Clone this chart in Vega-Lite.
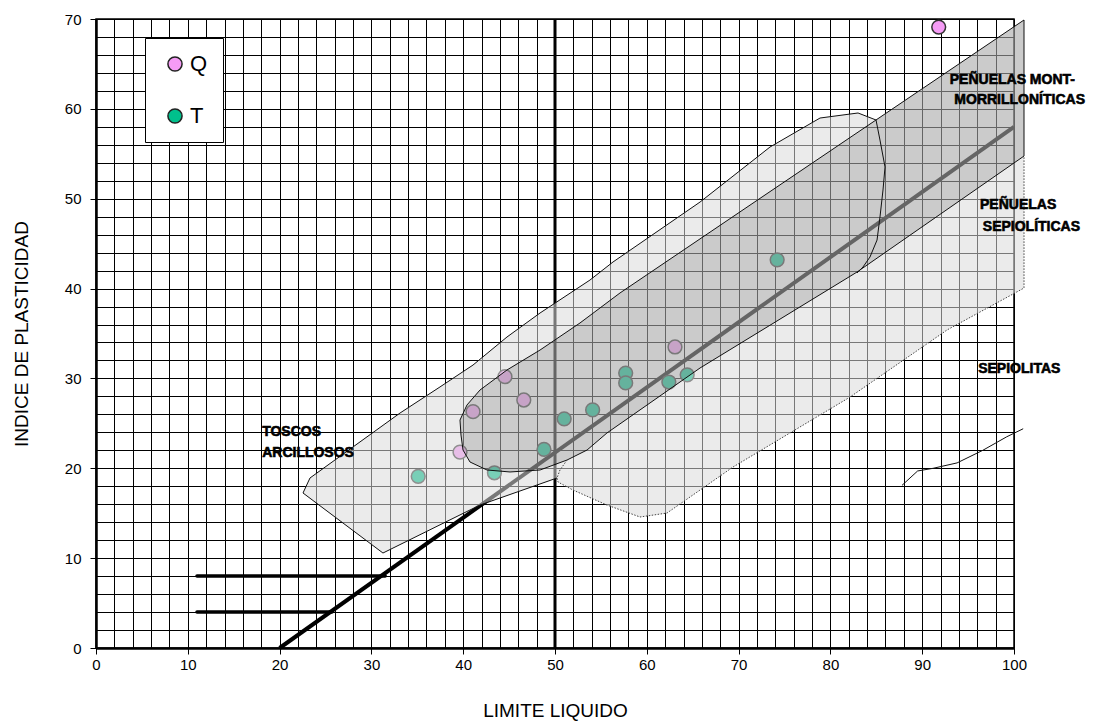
{
  "$schema": "https://vega.github.io/schema/vega-lite/v6.json",
  "width": 918,
  "height": 629,
  "autosize": {"type": "none"},
  "padding": {"left": 96, "top": 19, "right": 83, "bottom": 77},
  "background": "#ffffff",
  "config": {"font": "Liberation Sans", "view": {"stroke": "#000", "strokeWidth": 1.5}},
  "datasets": {
    "pts": [
      {"s": "Q", "x": 91.8, "y": 69.1},
      {"s": "Q", "x": 39.65, "y": 21.8},
      {"s": "Q", "x": 41.07, "y": 26.3},
      {"s": "Q", "x": 44.55, "y": 30.2},
      {"s": "Q", "x": 46.6, "y": 27.6},
      {"s": "Q", "x": 63.07, "y": 33.5},
      {"s": "T", "x": 35.1, "y": 19.1},
      {"s": "T", "x": 43.4, "y": 19.5},
      {"s": "T", "x": 48.8, "y": 22.1},
      {"s": "T", "x": 51.0, "y": 25.5},
      {"s": "T", "x": 54.1, "y": 26.5},
      {"s": "T", "x": 57.7, "y": 30.6},
      {"s": "T", "x": 57.7, "y": 29.5},
      {"s": "T", "x": 62.4, "y": 29.6},
      {"s": "T", "x": 64.4, "y": 30.4},
      {"s": "T", "x": 74.2, "y": 43.2}
    ],
    "poly": [
      {"g": "R1", "i": 1, "x": 22.55, "y": 17.25},
      {"g": "R1", "i": 2, "x": 23.31, "y": 18.92},
      {"g": "R1", "i": 3, "x": 33.12, "y": 26.15},
      {"g": "R1", "i": 4, "x": 37.47, "y": 29.05},
      {"g": "R1", "i": 5, "x": 41.07, "y": 31.49},
      {"g": "R1", "i": 6, "x": 44.77, "y": 34.61},
      {"g": "R1", "i": 7, "x": 48.37, "y": 37.28},
      {"g": "R1", "i": 8, "x": 53.81, "y": 40.95},
      {"g": "R1", "i": 9, "x": 56.32, "y": 42.96},
      {"g": "R1", "i": 10, "x": 65.8, "y": 49.63},
      {"g": "R1", "i": 11, "x": 73.42, "y": 55.75},
      {"g": "R1", "i": 12, "x": 78.87, "y": 58.98},
      {"g": "R1", "i": 13, "x": 83.01, "y": 59.54},
      {"g": "R1", "i": 14, "x": 84.97, "y": 58.76},
      {"g": "R1", "i": 15, "x": 57.08, "y": 39.51},
      {"g": "R1", "i": 16, "x": 52.72, "y": 36.17},
      {"g": "R1", "i": 17, "x": 48.37, "y": 33.16},
      {"g": "R1", "i": 18, "x": 44.77, "y": 30.94},
      {"g": "R1", "i": 19, "x": 41.83, "y": 28.71},
      {"g": "R1", "i": 20, "x": 40.41, "y": 27.04},
      {"g": "R1", "i": 21, "x": 39.65, "y": 25.37},
      {"g": "R1", "i": 22, "x": 39.76, "y": 23.7},
      {"g": "R1", "i": 23, "x": 39.98, "y": 22.03},
      {"g": "R1", "i": 24, "x": 40.74, "y": 20.7},
      {"g": "R1", "i": 25, "x": 42.59, "y": 19.81},
      {"g": "R1", "i": 26, "x": 45.1, "y": 19.59},
      {"g": "R1", "i": 27, "x": 48.37, "y": 19.81},
      {"g": "R1", "i": 28, "x": 50.54, "y": 20.59},
      {"g": "R1", "i": 29, "x": 50.22, "y": 18.92},
      {"g": "R1", "i": 30, "x": 41.83, "y": 15.91},
      {"g": "R1", "i": 31, "x": 31.26, "y": 10.57},

      {"g": "R2", "i": 1, "x": 50.22, "y": 18.92},
      {"g": "R2", "i": 2, "x": 50.54, "y": 20.59},
      {"g": "R2", "i": 3, "x": 51.31, "y": 20.92},
      {"g": "R2", "i": 4, "x": 53.49, "y": 22.03},
      {"g": "R2", "i": 5, "x": 55.66, "y": 23.93},
      {"g": "R2", "i": 6, "x": 65.8, "y": 31.16},
      {"g": "R2", "i": 7, "x": 82.9, "y": 41.84},
      {"g": "R2", "i": 8, "x": 101.09, "y": 54.75},
      {"g": "R2", "i": 9, "x": 101.09, "y": 40.06},
      {"g": "R2", "i": 10, "x": 92.7, "y": 35.39},
      {"g": "R2", "i": 11, "x": 82.14, "y": 27.93},
      {"g": "R2", "i": 12, "x": 69.39, "y": 20.14},
      {"g": "R2", "i": 13, "x": 65.8, "y": 17.58},
      {"g": "R2", "i": 14, "x": 62.2, "y": 15.02},
      {"g": "R2", "i": 15, "x": 59.26, "y": 14.58},
      {"g": "R2", "i": 16, "x": 55.66, "y": 15.91},
      {"g": "R2", "i": 17, "x": 51.96, "y": 17.58},
      {"g": "R2", "i": 18, "x": 50.33, "y": 18.47},

      {"g": "R3", "i": 1, "x": 39.76, "y": 23.7},
      {"g": "R3", "i": 2, "x": 39.98, "y": 22.03},
      {"g": "R3", "i": 3, "x": 40.74, "y": 20.7},
      {"g": "R3", "i": 4, "x": 42.59, "y": 19.81},
      {"g": "R3", "i": 5, "x": 45.1, "y": 19.59},
      {"g": "R3", "i": 6, "x": 48.37, "y": 19.81},
      {"g": "R3", "i": 7, "x": 51.31, "y": 20.92},
      {"g": "R3", "i": 8, "x": 53.49, "y": 22.03},
      {"g": "R3", "i": 9, "x": 55.66, "y": 23.93},
      {"g": "R3", "i": 10, "x": 65.8, "y": 31.16},
      {"g": "R3", "i": 11, "x": 82.9, "y": 41.84},
      {"g": "R3", "i": 12, "x": 101.09, "y": 54.75},
      {"g": "R3", "i": 13, "x": 101.09, "y": 69.89},
      {"g": "R3", "i": 14, "x": 57.08, "y": 39.51},
      {"g": "R3", "i": 15, "x": 52.72, "y": 36.17},
      {"g": "R3", "i": 16, "x": 48.37, "y": 33.16},
      {"g": "R3", "i": 17, "x": 44.77, "y": 30.94},
      {"g": "R3", "i": 18, "x": 41.83, "y": 28.71},
      {"g": "R3", "i": 19, "x": 40.41, "y": 27.04},
      {"g": "R3", "i": 20, "x": 39.65, "y": 25.37},
      {"g": "R3", "i": 21, "x": 39.76, "y": 23.7},

      {"g": "R1o", "i": 1, "x": 50.22, "y": 18.92},
      {"g": "R1o", "i": 2, "x": 41.83, "y": 15.91},
      {"g": "R1o", "i": 3, "x": 31.26, "y": 10.57},
      {"g": "R1o", "i": 4, "x": 22.55, "y": 17.25},
      {"g": "R1o", "i": 5, "x": 23.31, "y": 18.92},
      {"g": "R1o", "i": 6, "x": 33.12, "y": 26.15},
      {"g": "R1o", "i": 7, "x": 37.47, "y": 29.05},
      {"g": "R1o", "i": 8, "x": 41.07, "y": 31.49},
      {"g": "R1o", "i": 9, "x": 44.77, "y": 34.61},
      {"g": "R1o", "i": 10, "x": 48.37, "y": 37.28},
      {"g": "R1o", "i": 11, "x": 53.81, "y": 40.95},
      {"g": "R1o", "i": 12, "x": 56.32, "y": 42.96},
      {"g": "R1o", "i": 13, "x": 65.8, "y": 49.63},
      {"g": "R1o", "i": 14, "x": 73.42, "y": 55.75},
      {"g": "R1o", "i": 15, "x": 78.87, "y": 58.98},
      {"g": "R1o", "i": 16, "x": 83.01, "y": 59.54},
      {"g": "R1o", "i": 17, "x": 84.97, "y": 58.76},
      {"g": "R1o", "i": 18, "x": 85.4, "y": 56.53},
      {"g": "R1o", "i": 19, "x": 85.95, "y": 53.53},
      {"g": "R1o", "i": 20, "x": 85.73, "y": 50.97},
      {"g": "R1o", "i": 21, "x": 85.4, "y": 47.96},
      {"g": "R1o", "i": 22, "x": 85.08, "y": 45.4},
      {"g": "R1o", "i": 23, "x": 84.31, "y": 43.51},
      {"g": "R1o", "i": 24, "x": 83.55, "y": 42.4},
      {"g": "R1o", "i": 25, "x": 82.9, "y": 41.73},

      {"g": "R2o", "i": 1, "x": 51.31, "y": 20.92},
      {"g": "R2o", "i": 2, "x": 50.54, "y": 19.81},
      {"g": "R2o", "i": 3, "x": 50.22, "y": 18.92},
      {"g": "R2o", "i": 4, "x": 50.33, "y": 18.47},
      {"g": "R2o", "i": 5, "x": 51.96, "y": 17.58},
      {"g": "R2o", "i": 6, "x": 55.66, "y": 15.91},
      {"g": "R2o", "i": 7, "x": 59.26, "y": 14.58},
      {"g": "R2o", "i": 8, "x": 62.2, "y": 15.02},
      {"g": "R2o", "i": 9, "x": 65.8, "y": 17.58},
      {"g": "R2o", "i": 10, "x": 69.39, "y": 20.14},
      {"g": "R2o", "i": 11, "x": 82.14, "y": 27.93},
      {"g": "R2o", "i": 12, "x": 92.7, "y": 35.39},
      {"g": "R2o", "i": 13, "x": 101.09, "y": 40.06},
      {"g": "R2o", "i": 14, "x": 101.09, "y": 54.75},

      {"g": "aline", "i": 1, "x": 20, "y": 0},
      {"g": "aline", "i": 2, "x": 100, "y": 58},

      {"g": "sep", "i": 1, "x": 87.8, "y": 18.1},
      {"g": "sep", "i": 2, "x": 89.5, "y": 19.7},
      {"g": "sep", "i": 3, "x": 91.2, "y": 20.0},
      {"g": "sep", "i": 4, "x": 93.8, "y": 20.6},
      {"g": "sep", "i": 5, "x": 96.6, "y": 22.0},
      {"g": "sep", "i": 6, "x": 99.2, "y": 23.5},
      {"g": "sep", "i": 7, "x": 101.0, "y": 24.4}
    ],
    "hl": [
      {"y": 8, "x": 11, "x2": 31.5},
      {"y": 4, "x": 11, "x2": 25.7}
    ],
    "vl": [{"x": 50, "y": 0, "y2": 70}],
    "labels": [
      {"t": "TOSCOS", "x": 18.1, "y": 24.0},
      {"t": "ARCILLOSOS", "x": 18.1, "y": 21.7},
      {"t": "PEÑUELAS MONT-", "x": 93.0, "y": 63.2},
      {"t": "MORRILLONÍTICAS", "x": 93.5, "y": 61.0},
      {"t": "PEÑUELAS", "x": 96.3, "y": 49.3},
      {"t": "SEPIOLÍTICAS", "x": 96.6, "y": 46.85},
      {"t": "SEPIOLITAS", "x": 96.1, "y": 31.05}
    ]
  },
  "encoding": {
    "x": {
      "field": "x", "type": "quantitative",
      "scale": {"domain": [0, 100], "nice": false, "zero": false},
      "axis": {
        "values": [0,2,4,6,8,10,12,14,16,18,20,22,24,26,28,30,32,34,36,38,40,42,44,46,48,50,52,54,56,58,60,62,64,66,68,70,72,74,76,78,80,82,84,86,88,90,92,94,96,98,100],
        "title": "LIMITE LIQUIDO",
        "zindex": 0,
        "grid": true, "gridColor": "#000", "gridWidth": 1, "gridOpacity": 1,
        "domainColor": "#000", "domainWidth": 2.5,
        "tickColor": "#000", "tickSize": 6, "tickWidth": 1,
        "tickOpacity": {"condition": {"test": "datum.value % 10 === 0", "value": 1}, "value": 0},
        "labelExpr": "datum.value % 10 === 0 ? datum.label : ''",
        "labelFont": "Liberation Sans", "labelFontSize": 15, "labelColor": "#000",
        "labelPadding": 3, "labelOverlap": false, "labelFlush": false,
        "titleFont": "Liberation Sans", "titleFontSize": 19, "titleFontWeight": "normal",
        "titleColor": "#000", "titlePadding": 29
      }
    },
    "y": {
      "field": "y", "type": "quantitative",
      "scale": {"domain": [0, 70], "nice": false, "zero": false},
      "axis": {
        "values": [0,2,4,6,8,10,12,14,16,18,20,22,24,26,28,30,32,34,36,38,40,42,44,46,48,50,52,54,56,58,60,62,64,66,68,70],
        "title": "INDICE DE PLASTICIDAD",
        "zindex": 0,
        "grid": true, "gridColor": "#000", "gridWidth": 1, "gridOpacity": 1,
        "domainColor": "#000", "domainWidth": 2.5,
        "tickColor": "#000", "tickSize": 6, "tickWidth": 1,
        "tickOpacity": {"condition": {"test": "datum.value % 10 === 0", "value": 1}, "value": 0},
        "labelExpr": "datum.value % 10 === 0 ? datum.label : ''",
        "labelFont": "Liberation Sans", "labelFontSize": 15, "labelColor": "#000",
        "labelPadding": 9, "labelOverlap": false, "labelFlush": false,
        "titleFont": "Liberation Sans", "titleFontSize": 19, "titleFontWeight": "normal",
        "titleColor": "#000", "titlePadding": 33
      }
    }
  },
  "layer": [
    {
      "data": {"name": "vl"},
      "mark": {"type": "rule", "color": "#000", "strokeWidth": 3},
      "encoding": {
        "y2": {"field": "y2"}
      }
    },
    {
      "data": {"name": "poly"},
      "transform": [{"filter": "datum.g === 'aline'"}],
      "mark": {"type": "line", "color": "#000", "strokeWidth": 4},
      "encoding": {
        "order": {"field": "i", "type": "quantitative"}
      }
    },
    {
      "data": {"name": "pts"},
      "mark": {"type": "point", "filled": true, "size": 190, "stroke": "#333", "strokeWidth": 1.5, "opacity": 1},
      "encoding": {
        "color": {
          "field": "s", "type": "nominal",
          "scale": {"domain": ["Q", "T"], "range": ["#F59BF5", "#00C08C"]},
          "legend": {
            "orient": "none", "legendX": 49, "legendY": 19, "title": null,
            "direction": "vertical", "fillColor": "#fff", "strokeColor": "#000",
            "padding": 15, "rowPadding": 30, "symbolOffset": 4,
            "symbolType": "circle", "symbolSize": 200,
            "symbolStrokeColor": "#222", "symbolStrokeWidth": 1.5,
            "labelFont": "Liberation Sans", "labelFontSize": 22, "labelColor": "#000", "labelOffset": 4
          }
        }
      }
    },
    {
      "data": {"name": "poly"},
      "transform": [{"filter": "datum.g === 'R1' || datum.g === 'R2'"}],
      "mark": {"type": "line", "fill": "#DADADA", "fillOpacity": 0.55, "strokeWidth": 0, "strokeOpacity": 0},
      "encoding": {
        "detail": {"field": "g"},
        "order": {"field": "i", "type": "quantitative"}
      }
    },
    {
      "data": {"name": "poly"},
      "transform": [{"filter": "datum.g === 'R3'"}],
      "mark": {"type": "line", "fill": "#A8A8A8", "fillOpacity": 0.6, "stroke": "#111", "strokeWidth": 1},
      "encoding": {
        "order": {"field": "i", "type": "quantitative"}
      }
    },
    {
      "data": {"name": "poly"},
      "transform": [{"filter": "datum.g === 'R1o' || datum.g === 'sep'"}],
      "mark": {"type": "line", "color": "#111", "strokeWidth": 1},
      "encoding": {
        "detail": {"field": "g"},
        "order": {"field": "i", "type": "quantitative"}
      }
    },
    {
      "data": {"name": "poly"},
      "transform": [{"filter": "datum.g === 'R2o'"}],
      "mark": {"type": "line", "color": "#444", "strokeWidth": 1, "strokeDash": [1.5, 1.5]},
      "encoding": {
        "order": {"field": "i", "type": "quantitative"}
      }
    },
    {
      "data": {"name": "hl"},
      "mark": {"type": "rule", "color": "#000", "strokeWidth": 3.5, "strokeCap": "round"},
      "encoding": {
        "x2": {"field": "x2"}
      }
    },
    {
      "data": {"name": "labels"},
      "mark": {"type": "text", "align": "left", "baseline": "middle", "font": "Liberation Sans", "fontWeight": "bold", "fontSize": 14, "color": "#000", "stroke": "#000", "strokeWidth": 0.6},
      "encoding": {
        "text": {"field": "t"}
      }
    }
  ]
}
